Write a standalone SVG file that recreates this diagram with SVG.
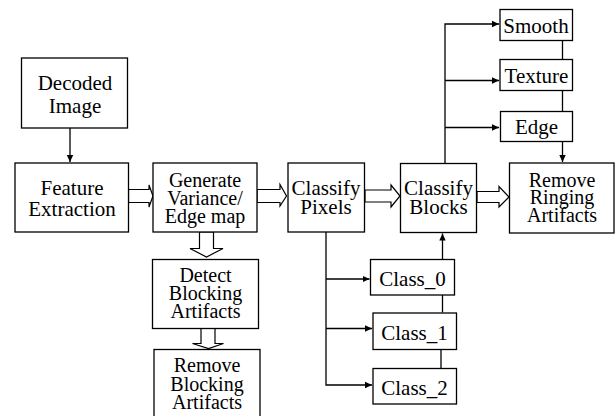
<svg xmlns="http://www.w3.org/2000/svg" width="615" height="416" viewBox="0 0 615 416" font-family="Liberation Serif, Times New Roman, DejaVu Serif, serif">
<style>
.b{fill:#fff;stroke:#000;stroke-width:1.3}
text{font-size:21px;text-anchor:middle;fill:#000}
.s{font-size:20px}
.l{fill:none;stroke:#000;stroke-width:1.3}
.h{fill:#fff;stroke:#000;stroke-width:1.2;stroke-linejoin:miter}
</style>
<defs>
<marker id="a" markerWidth="8" markerHeight="8" refX="7" refY="4" orient="auto" markerUnits="userSpaceOnUse">
<path d="M0,0.8 L7,4 L0,7.2 Z" fill="#000"/>
</marker>
</defs>
<rect width="615" height="416" fill="#fff"/>
<g id="connectors">
<path class="l" d="M70,128 V162" marker-end="url(#a)"/>
<path class="h" d="M128.5,189.5 H149 V185 L153,196 L149,207 V202.5 H128.5 Z"/>
<path class="h" d="M257,189.5 H280 V184.5 L286.5,196 L280,206 V202.5 H257 Z"/>
<path class="h" d="M365,190 H391 V185 L400,196 L391,207 V202 H365 Z"/>
<path class="h" d="M477,191.5 H499 V186.5 L509,197 L499,207 V202.5 H477 Z"/>
<path class="h" d="M199.5,232 V248.5 H190 L206.5,257 L223,248.5 H213.5 V232 Z"/>
<path class="h" d="M201,328.5 V343.5 H192.5 L208.5,348.5 L223.5,343.5 H215 V328.5 Z"/>
<path class="l" d="M445,163 V24 H499" marker-end="url(#a)"/>
<path class="l" d="M445,80.5 H499" marker-end="url(#a)"/>
<path class="l" d="M445,127.5 H499" marker-end="url(#a)"/>
<path class="l" d="M562.5,40 V59.5"/>
<path class="l" d="M562.5,90.5 V111.5"/>
<path class="l" d="M562.5,141.5 V162" marker-end="url(#a)"/>
<path class="l" d="M326,232 V385 H372" marker-end="url(#a)"/>
<path class="l" d="M326,279 H369.5" marker-end="url(#a)"/>
<path class="l" d="M326,328.5 H372" marker-end="url(#a)"/>
<path class="l" d="M442.5,259 V233.5" marker-end="url(#a)"/>
<path class="l" d="M442.5,295 V312.5"/>
<path class="l" d="M441,349.5 V368.5"/>
</g>
<g id="decoded"><rect class="b" x="21.5" y="58" width="106" height="70"/><text x="75" y="90">Decoded</text><text x="75" y="113">Image</text></g>
<g id="feature"><rect class="b" x="15" y="163" width="113.5" height="69"/><text x="72" y="195">Feature</text><text x="72" y="216">Extraction</text></g>
<g id="generate"><rect class="b" x="153" y="163" width="104" height="69"/><text class="s" x="205" y="187">Generate</text><text class="s" x="205" y="205">Variance/</text><text class="s" x="205" y="223">Edge map</text></g>
<g id="detect"><rect class="b" x="152.5" y="259.5" width="106" height="69"/><text class="s" x="205.5" y="282">Detect</text><text class="s" x="205.5" y="300">Blocking</text><text class="s" x="205.5" y="318">Artifacts</text></g>
<g id="removeblocking"><rect class="b" x="154" y="349.5" width="106" height="80"/><text class="s" x="207" y="372">Remove</text><text class="s" x="207" y="390.5">Blocking</text><text class="s" x="207" y="408.5">Artifacts</text></g>
<g id="pixels"><rect class="b" x="288" y="163" width="76.5" height="69"/><text x="326" y="195">Classify</text><text x="326" y="213.5">Pixels</text></g>
<g id="blocks"><rect class="b" x="400.5" y="163.5" width="76" height="69"/><text x="438.5" y="195">Classify</text><text x="438.5" y="213.5">Blocks</text></g>
<g id="ringing"><rect class="b" x="509.5" y="163" width="104.5" height="70"/><text class="s" x="562" y="187">Remove</text><text class="s" x="562" y="204">Ringing</text><text class="s" x="562" y="222">Artifacts</text></g>
<g id="smooth"><rect class="b" x="500" y="9.5" width="72.5" height="31"/><text x="536" y="33">Smooth</text></g>
<g id="texture"><rect class="b" x="500" y="59.5" width="72.5" height="31"/><text x="536.5" y="83">Texture</text></g>
<g id="edge"><rect class="b" x="500.5" y="111.5" width="72" height="30"/><text x="536.5" y="134">Edge</text></g>
<g id="class0"><rect class="b" x="370.5" y="259.5" width="84" height="35.5"/><text x="412.5" y="286">Class_0</text></g>
<g id="class1"><rect class="b" x="373" y="313" width="83.5" height="36.5"/><text x="414.5" y="340">Class_1</text></g>
<g id="class2"><rect class="b" x="373" y="368.5" width="83.5" height="35.5"/><text x="414.5" y="395">Class_2</text></g>
</svg>
